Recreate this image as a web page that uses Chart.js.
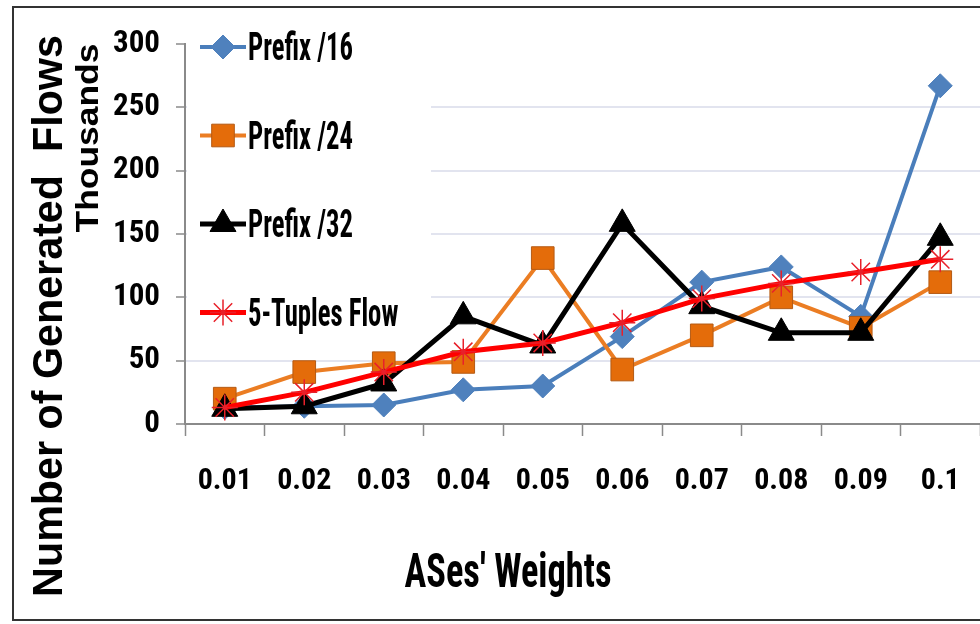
<!DOCTYPE html>
<html>
<head>
<meta charset="utf-8">
<script src="https://cdn.jsdelivr.net/npm/chart.js@4/dist/chart.umd.min.js"></script>
<style>
  html, body { margin: 0; padding: 0; background: #fff; overflow: hidden; }
  canvas { display: block; }
</style>
</head>
<body>
<canvas id="flows" width="980" height="624"></canvas>
<script>
// data (thousands of flows)
const weights = ['0.01', '0.02', '0.03', '0.04', '0.05', '0.06', '0.07', '0.08', '0.09', '0.1'];
const prefix16 = [13, 14, 15, 27, 30, 69, 112, 124, 85, 267];
const prefix24 = [20, 41, 48, 49, 131, 43, 70, 100, 76, 112];
const prefix32 = [12, 14, 32, 85, 62, 158, 93, 72, 72, 147];
const tuples5 = [13, 25, 41, 57, 64, 80, 99, 111, 120, 130];
const yTicks = [0, 50, 100, 150, 200, 250, 300];

const NARROW = "'Roboto Condensed', 'Open Sans Condensed', sans-serif";
const WIDE = "'Liberation Sans', Arial, sans-serif";

// draws text sized to a given width and cap height (the source picture is stretched tall)
function fitText(ctx, text, width, cap, family, refText) {
  ctx.font = 'bold 100px ' + family;
  const w = ctx.measureText(refText || text).width;
  const size = 100 * width / w;
  ctx.font = 'bold ' + size.toFixed(2) + 'px ' + family;
  const capNow = ctx.measureText('H').actualBoundingBoxAscent;
  ctx.scale(1, cap / capNow);
  ctx.fillText(text, 0, 0);
}

// white background, frame, axis titles and the in-plot legend
const decorations = {
  id: 'decorations',
  beforeDraw(chart) {
    const ctx = chart.ctx;
    ctx.save();
    ctx.fillStyle = '#fff';
    ctx.fillRect(0, 0, chart.width, chart.height);
    ctx.strokeStyle = '#333';
    ctx.lineWidth = 2;
    ctx.beginPath();
    ctx.moveTo(chart.width, 7);
    ctx.lineTo(13, 7);
    ctx.lineTo(13, 620);
    ctx.lineTo(chart.width, 620);
    ctx.stroke();
    ctx.restore();
  },
  beforeDatasetsDraw(chart) {
    const ctx = chart.ctx;
    const area = chart.chartArea;
    ctx.save();
    // legend box covers the grid lines
    ctx.fillStyle = '#fff';
    ctx.fillRect(area.left + 2, area.top - 2, 244, 290);
    chart.data.datasets.forEach((ds, i) => {
      const y = 47 + i * 88.5;
      const x0 = 200, x1 = 246;
      ctx.strokeStyle = ds.borderColor;
      ctx.lineWidth = ds.borderWidth;
      ctx.beginPath();
      ctx.moveTo(x0, y);
      ctx.lineTo(x1, y);
      ctx.stroke();
      ctx.fillStyle = ds.pointBackgroundColor;
      ctx.strokeStyle = ds.pointBorderColor;
      ctx.lineWidth = ds.pointBorderWidth;
      Chart.helpers.drawPoint(ctx, {
        pointStyle: ds.pointStyle,
        radius: ds.pointRadius,
        borderWidth: ds.pointBorderWidth,
        rotation: 0
      }, (x0 + x1) / 2, y);
      ctx.save();
      ctx.fillStyle = '#000';
      ctx.textAlign = 'left';
      ctx.textBaseline = 'alphabetic';
      ctx.translate(x1 + 2, y + 13);
      fitText(ctx, ds.label, 105, 27, NARROW, 'Prefix /16');
      ctx.restore();
    });
    ctx.restore();
  },
  afterDraw(chart) {
    const ctx = chart.ctx;
    ctx.fillStyle = '#000';
    ctx.textAlign = 'center';
    ctx.textBaseline = 'alphabetic';

    ctx.save();
    ctx.translate(508, 587);
    fitText(ctx, "ASes' Weights", 207, 34, NARROW);
    ctx.restore();

    ctx.save();
    ctx.translate(62, 316);
    ctx.rotate(-Math.PI / 2);
    fitText(ctx, 'Number of Generated  Flows', 562, 29, WIDE);
    ctx.restore();

    ctx.save();
    ctx.translate(98, 138);
    ctx.rotate(-Math.PI / 2);
    fitText(ctx, 'Thousands', 189, 21, WIDE);
    ctx.restore();
  }
};

new Chart(document.getElementById('flows').getContext('2d'), {
  type: 'line',
  data: {
    labels: weights,
    datasets: [
      {
        label: 'Prefix /16',
        data: prefix16,
        borderColor: '#4a7ebb',
        borderWidth: 4,
        pointStyle: 'rectRot',
        pointRadius: 12,
        pointBackgroundColor: '#4f81bd',
        pointBorderColor: '#4f81bd',
        pointBorderWidth: 1,
        order: 4
      },
      {
        label: 'Prefix /24',
        data: prefix24,
        borderColor: '#eb7d23',
        borderWidth: 4,
        pointStyle: 'rect',
        pointRadius: 16,
        pointBackgroundColor: '#e46c0a',
        pointBorderColor: '#b45a14',
        pointBorderWidth: 1,
        order: 3
      },
      {
        label: 'Prefix /32',
        data: prefix32,
        borderColor: '#000',
        borderWidth: 5,
        pointStyle: 'triangle',
        pointRadius: 15,
        pointBackgroundColor: '#000',
        pointBorderColor: '#000',
        pointBorderWidth: 1,
        order: 2
      },
      {
        label: '5-Tuples Flow',
        data: tuples5,
        borderColor: '#ff0000',
        borderWidth: 5,
        pointStyle: 'star',
        pointRadius: 13,
        pointBackgroundColor: '#ff0000',
        pointBorderColor: '#e8202a',
        pointBorderWidth: 1.5,
        order: 1
      }
    ]
  },
  options: {
    responsive: false,
    animation: false,
    layout: { autoPadding: false, padding: { top: 44, left: 0, right: 0, bottom: 0 } },
    plugins: { legend: { display: false }, tooltip: { enabled: false } },
    elements: { line: { tension: 0 } },
    scales: {
      x: {
        offset: true,
        grid: {
          offset: true,
          drawOnChartArea: false,
          drawTicks: true,
          tickLength: 12,
          tickColor: '#8a8a8a',
          tickWidth: 1.5
        },
        border: { color: '#8a8a8a', width: 2 },
        ticks: {
          color: '#000',
          padding: 27,
          maxRotation: 0,
          font: { family: NARROW, size: 30, weight: 'bold' }
        },
        afterFit(scale) {
          scale.height = 200;
          scale.paddingLeft = 0;
          scale.paddingRight = 0;
        }
      },
      y: {
        min: 0,
        max: 300,
        afterBuildTicks(scale) { scale.ticks = yTicks.map(v => ({ value: v })); },
        grid: {
          color: ctx => (ctx.tick && (ctx.tick.value === 0 || ctx.tick.value === 300)) ? 'rgba(0,0,0,0)' : '#e2e4ef',
          lineWidth: 2,
          drawTicks: true,
          tickLength: 9,
          tickColor: '#8a8a8a',
          tickWidth: 1.5
        },
        border: { color: '#8a8a8a', width: 2 },
        ticks: {
          color: '#000',
          padding: 16,
          font: { family: NARROW, size: 31, weight: 'bold' }
        },
        afterFit(scale) {
          scale.width = 185;
          scale.paddingTop = 0;
          scale.paddingBottom = 0;
        }
      }
    }
  },
  plugins: [decorations]
});
</script>
</body>
</html>
